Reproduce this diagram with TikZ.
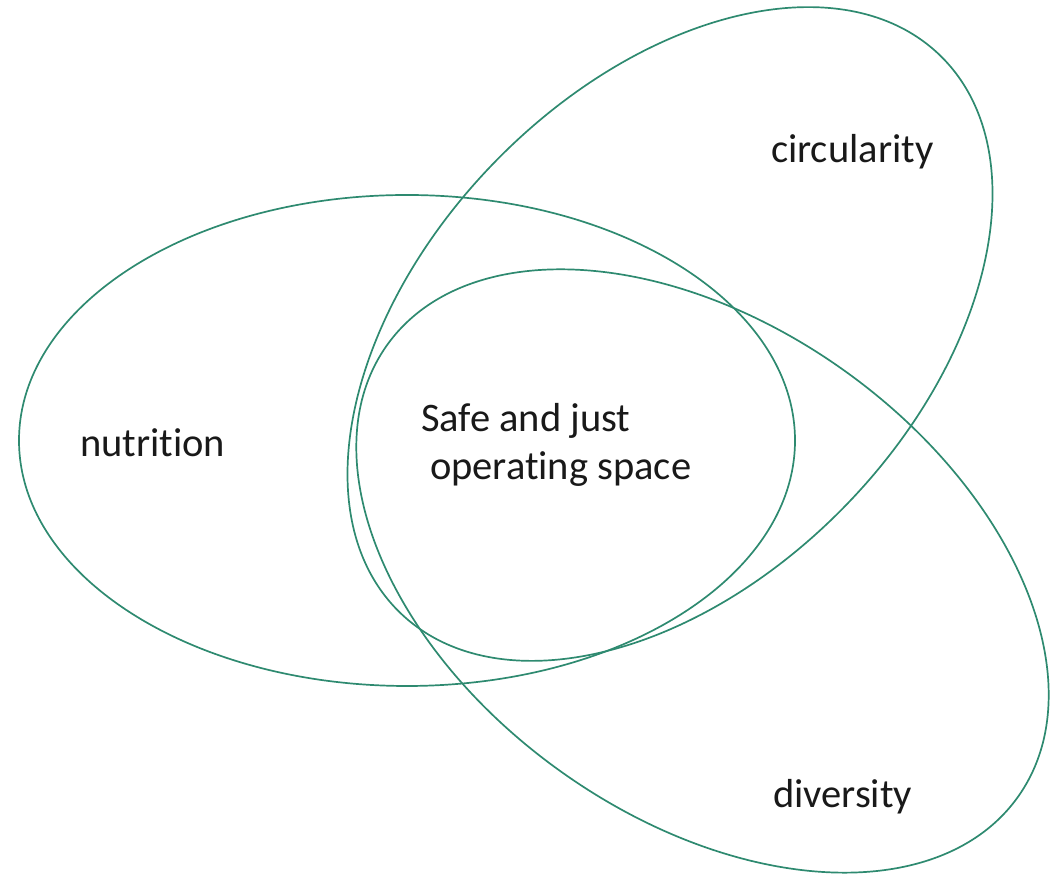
\documentclass[tikz,border=0pt]{standalone}
\usepackage{fontspec}
\setmainfont[Ligatures=NoCommon]{Carlito}
\definecolor{ringgreen}{RGB}{46,138,112}
\definecolor{labelgray}{RGB}{25,25,25}
\begin{document}
\begin{tikzpicture}[x=1pt,y=1pt,
  ring/.style={draw=ringgreen,line width=1.7pt},
  label/.style={anchor=base west,inner sep=0pt,outer sep=0pt,text=labelgray,
    font=\fontsize{40.5}{49}\selectfont}]
  \useasboundingbox (0,0) rectangle (1063,874);
  % three equal ellipses, rotated copies of one another
  \draw[ring] (407,433.5) ellipse [x radius=388pt, y radius=245.5pt];
  \draw[ring,rotate around={45.9:(670,540)}] (670,540) ellipse [x radius=388pt, y radius=245.5pt];
  \draw[ring,rotate around={-35.7:(702.5,303)}] (702.5,303) ellipse [x radius=388pt, y radius=245.5pt];
  % labels
  \node[label] (nutrition) at (80,417) {nutrition};
  \node[label] (circularity) at (771,711) {circularity};
  \node[label] (diversity) at (773,66) {diversity};
  \node[label] (safe) at (421,442) {Safe and just};
  \node[label] (space) at (430,394) {operating space};
\end{tikzpicture}
\end{document}
